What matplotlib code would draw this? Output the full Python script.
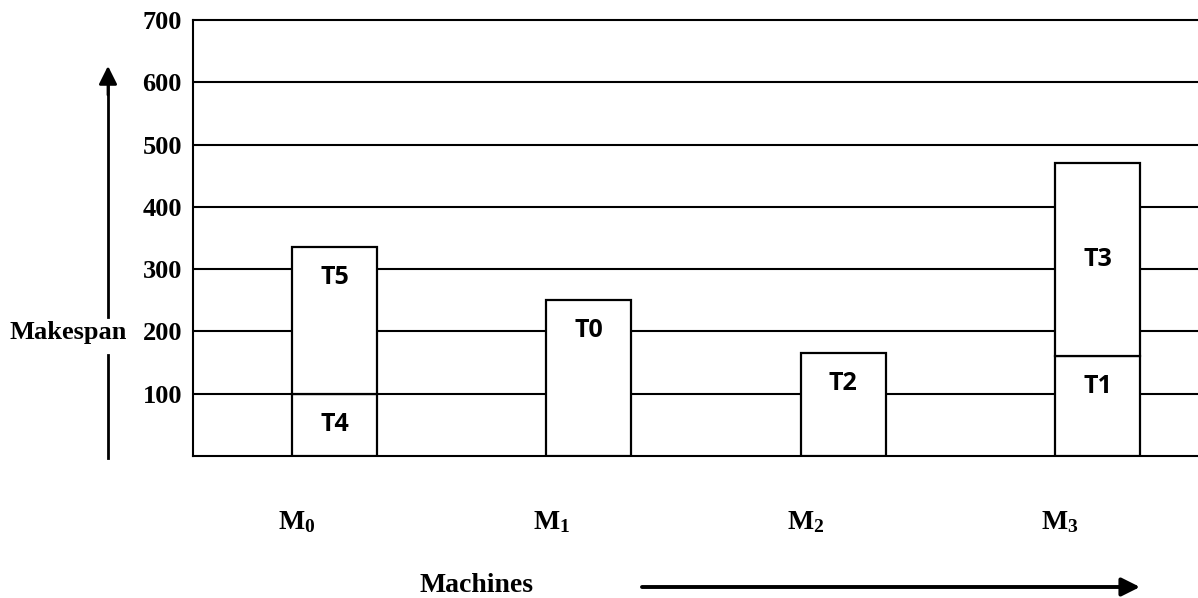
import matplotlib
matplotlib.use('Agg')
from matplotlib import pyplot as plt
import numpy as np

# chart data
machines = ['M_0', 'M_1', 'M_2', 'M_3']
tasks = ['T4', 'T5', 'T0', 'T2', 'T1', 'T3']
task_machine = [0, 0, 1, 2, 3, 3]
task_start = [0, 100, 0, 0, 0, 160]
task_end = [100, 335, 250, 165, 160, 470]
y_ticks = [100, 200, 300, 400, 500, 600, 700]
centered_tasks = ['T3']

serif = 'Liberation Serif'
plt.rcParams['mathtext.fontset'] = 'custom'
plt.rcParams['mathtext.rm'] = 'Liberation Serif:bold'
plt.rcParams['mathtext.bf'] = 'Liberation Serif:bold'
plt.rcParams['mathtext.it'] = 'Liberation Serif:bold'

W, H = 1198, 598
fig = plt.figure(figsize=(W / 100, H / 100), dpi=100)
ax = fig.add_axes([193 / W, 1 - 456 / H, 1 - 193 / W, (456 - 20) / H])

ax.set_xlim(-0.556, 3.395)
ax.set_ylim(0, 700)

# horizontal grid lines
for t in y_ticks[:-1]:
    ax.axhline(t, color='black', lw=1.5, zorder=1)

# stacked task boxes
bar_w = 0.335
for name, m, s, e in zip(tasks, task_machine, task_start, task_end):
    ax.bar(m, e - s, bottom=s, width=bar_w, facecolor='white',
           edgecolor='black', linewidth=1.6, zorder=3)
    if name in centered_tasks:
        ax.text(m, (s + e) / 2, name, ha='center', va='center', zorder=4,
                fontsize=18, fontweight='bold', family='Open Sans')
    else:
        ax.annotate(name, (m, e), xytext=(0, -22), textcoords='offset points',
                    ha='center', va='center', zorder=4,
                    fontsize=18, fontweight='bold', family='Open Sans')

# machine labels under the plot
for i, m in enumerate(machines):
    ax.annotate(r'$\mathbf{' + m + '}$', (i, 0), xytext=(-27, -47),
                textcoords='offset points', ha='center', va='center',
                fontsize=20)

ax.set_yticks(y_ticks)
ax.set_yticklabels([str(t) for t in y_ticks], fontsize=19,
                   fontweight='bold', family=serif)
ax.set_xticks([])
ax.tick_params(axis='y', length=0, pad=8)
for side in ['left', 'top', 'bottom']:
    ax.spines[side].set_linewidth(1.5)
ax.spines['right'].set_visible(False)

# axis captions and arrows
fig.text(9 / W, 1 - 333 / H, 'Makespan', fontsize=19, fontweight='bold',
         family=serif, ha='left', va='center')
fig.text(477 / W, 1 - 585 / H, 'Machines', fontsize=20, fontweight='bold',
         family=serif, ha='center', va='center')

arrow_style = '-|>,head_length=1.1,head_width=0.55'
fig.add_artist(plt.Line2D([108 / W, 108 / W], [1 - 458 / H, 1 - 355 / H],
                          color='black', lw=2))
fig.add_artist(plt.Line2D([108 / W, 108 / W], [1 - 317 / H, 1 - 80 / H],
                          color='black', lw=2))
ax.annotate('', xy=(108 / W, 1 - 66 / H), xytext=(108 / W, 1 - 95 / H),
            xycoords='figure fraction', textcoords='figure fraction',
            arrowprops=dict(arrowstyle=arrow_style, color='black', lw=2,
                            shrinkA=0, shrinkB=0))
ax.annotate('', xy=(1140 / W, 1 - 587 / H), xytext=(642 / W, 1 - 587 / H),
            xycoords='figure fraction', textcoords='figure fraction',
            arrowprops=dict(arrowstyle=arrow_style, color='black', lw=2.8,
                            shrinkA=0, shrinkB=0))

plt.savefig('out.png', dpi=100)
plt.close('all')
